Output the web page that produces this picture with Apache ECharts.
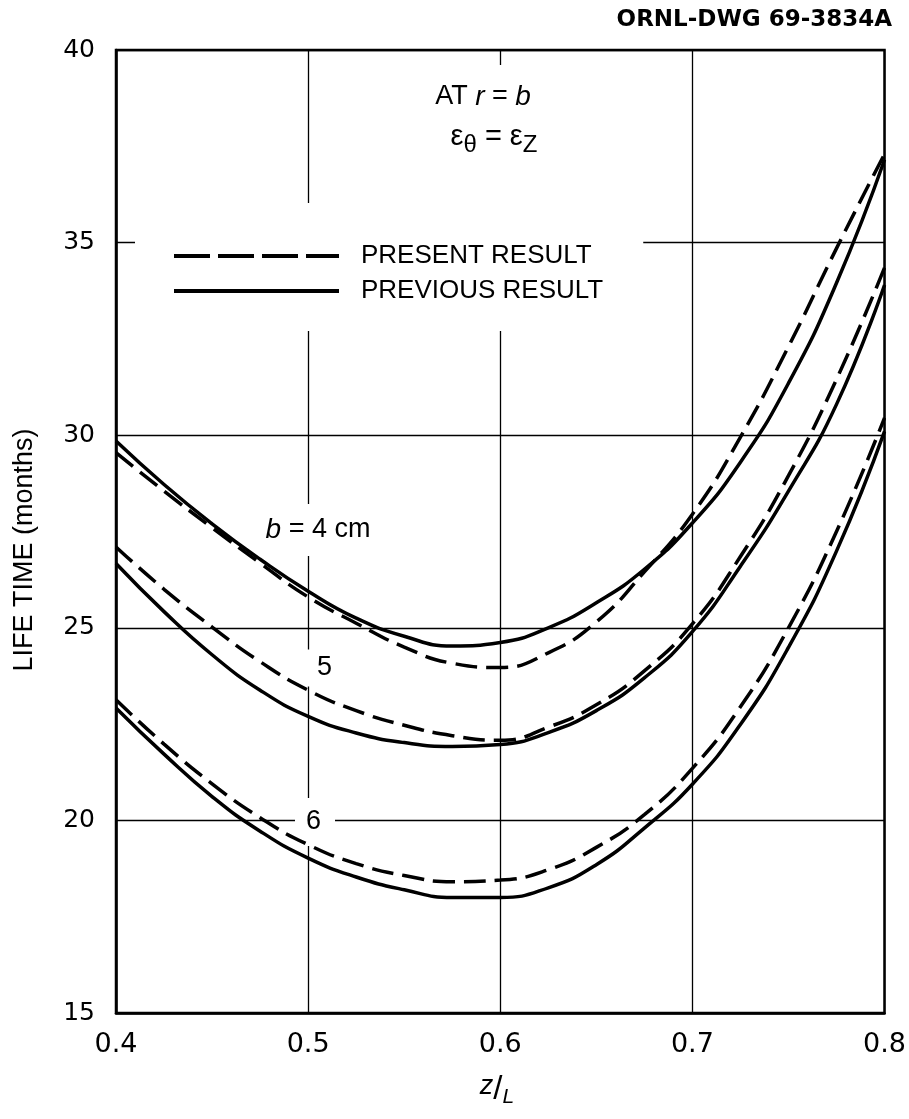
<!DOCTYPE html>
<html>
<head>
<meta charset="utf-8">
<script src="https://cdn.jsdelivr.net/npm/echarts@6/dist/echarts.min.js"></script>
<style>
  html, body { margin: 0; padding: 0; background: #fff; }
  #main { width: 909px; height: 1119px; }
</style>
</head>
<body>
<div id="main"></div>
<script>
var zL = [0.40, 0.425, 0.45, 0.475, 0.50, 0.525, 0.55, 0.575, 0.60, 0.625, 0.65, 0.675, 0.70, 0.725, 0.75, 0.775, 0.80];

// life time (months), present result = dashed
var present4 = [29.55, 28.55, 27.6, 26.68, 25.8, 25.12, 24.5, 24.08, 23.97, 24.35, 25.15, 26.45, 27.95, 29.95, 32.3, 34.85, 37.3];
var present5 = [27.1, 26.0, 25.02, 24.12, 23.38, 22.85, 22.47, 22.2, 22.08, 22.42, 23.0, 23.88, 25.1, 26.85, 28.95, 31.45, 34.35];
var present6 = [23.13, 21.98, 20.95, 20.07, 19.37, 18.88, 18.57, 18.41, 18.45, 18.72, 19.3, 20.15, 21.35, 22.95, 25.0, 27.5, 30.45];

// previous result = solid
var previous4 = [29.85, 28.72, 27.7, 26.78, 25.95, 25.25, 24.78, 24.53, 24.62, 25.0, 25.65, 26.52, 27.72, 29.3, 31.35, 33.95, 37.15];
var previous5 = [26.67, 25.42, 24.3, 23.38, 22.7, 22.27, 22.02, 21.92, 21.97, 22.28, 22.85, 23.7, 24.9, 26.6, 28.55, 30.8, 33.9];
var previous6 = [22.92, 21.72, 20.62, 19.72, 19.02, 18.53, 18.2, 18.0, 18.0, 18.25, 18.85, 19.8, 20.94, 22.49, 24.49, 26.99, 30.1];

var xTicks = [0.4, 0.5, 0.6, 0.7, 0.8];
var yTicks = [15, 20, 25, 30, 35, 40];

var PRESENT = 'PRESENT RESULT';
var PREVIOUS = 'PREVIOUS RESULT';

function pairs(ys) {
    return zL.map(function (x, i) { return [x, ys[i]]; });
}

function curve(name, ys, dashed) {
    return {
        name: name,
        type: 'line',
        data: pairs(ys),
        smooth: 0.5,
        symbol: 'none',
        silent: true,
        itemStyle: { color: '#000' },
        lineStyle: {
            color: '#000',
            width: 3.5,
            type: dashed ? [22, 9] : 'solid'
        }
    };
}

var myChart = echarts.init(document.getElementById('main'));

var option = {
    backgroundColor: '#fff',
    animation: false,
    grid: {
        left: 116,
        right: 20,
        top: 50,
        bottom: 106,
        show: true,
        borderColor: '#000',
        borderWidth: 2.5
    },
    xAxis: {
        type: 'value',
        min: xTicks[0],
        max: xTicks[xTicks.length - 1],
        interval: 0.1,
        axisLine: { show: true, lineStyle: { color: '#000', width: 2.5 } },
        axisTick: { show: false },
        splitLine: { show: true, lineStyle: { color: '#000', width: 1.3 } },
        axisLabel: {
            color: '#000',
            fontFamily: 'DejaVu Sans',
            fontSize: 27,
            margin: 18,
            formatter: function (v) { return v.toFixed(1); }
        }
    },
    yAxis: {
        type: 'value',
        min: yTicks[0],
        max: yTicks[yTicks.length - 1],
        interval: 5,
        axisLine: { show: true, lineStyle: { color: '#000', width: 2.5 } },
        axisTick: { show: false },
        splitLine: { show: true, lineStyle: { color: '#000', width: 1.3 } },
        axisLabel: {
            color: '#000',
            fontFamily: 'DejaVu Sans',
            fontSize: 25,
            margin: 21
        }
    },
    legend: {
        left: 135,
        top: 203,
        orient: 'vertical',
        padding: [40, 40, 27, 37],
        backgroundColor: '#fff',
        itemWidth: 165,
        itemHeight: 14,
        itemGap: 9,
        selectedMode: false,
        itemStyle: { opacity: 0 },
        data: [
            { name: PRESENT, lineStyle: { type: [36, 8], width: 4 } },
            { name: PREVIOUS, lineStyle: { width: 4 } }
        ],
        textStyle: {
            color: '#000',
            fontFamily: 'Liberation Sans',
            fontSize: 26,
            lineHeight: 26,
            padding: [0, 0, 0, 17]
        }
    },
    graphic: [
        // blank patch behind the condition note (the grid line stops there)
        {
            type: 'rect', z: 1, silent: true,
            shape: { x: 415, y: 65, width: 150, height: 140 },
            style: { fill: '#fff' }
        },
        {
            type: 'text', z: 5, x: 483, y: 97,
            style: {
                text: 'AT {i|r} = {i|b}',
                align: 'center', verticalAlign: 'middle',
                font: '27px "Liberation Sans"', fill: '#000',
                rich: { i: { fontStyle: 'italic', fontSize: 28, fontFamily: 'Liberation Sans' } }
            }
        },
        {
            type: 'text', z: 5, x: 494, y: 137,
            style: {
                text: 'ε{s|θ} = ε{s|Z}',
                align: 'center', verticalAlign: 'middle',
                font: '29px "Liberation Sans"', fill: '#000',
                rich: { s: { fontSize: 24, fontFamily: 'Liberation Sans', padding: [16, 0, 0, 0] } }
            }
        },
        // curve labels
        {
            type: 'text', z: 1, x: 318, y: 530,
            style: {
                text: '{i|b} = 4 cm',
                align: 'center', verticalAlign: 'middle',
                font: '27px "Liberation Sans"', fill: '#000',
                backgroundColor: '#fff', padding: [12, 4, 12, 4],
                rich: { i: { fontStyle: 'italic', fontSize: 28, fontFamily: 'Liberation Sans' } }
            }
        },
        {
            type: 'text', z: 1, x: 321, y: 668,
            style: {
                text: '5',
                align: 'center', verticalAlign: 'middle',
                font: '27px "Liberation Sans"', fill: '#000',
                backgroundColor: '#fff', padding: [7, 6, 3, 13]
            }
        },
        {
            type: 'text', z: 1, x: 315, y: 822,
            style: {
                text: '6',
                align: 'center', verticalAlign: 'middle',
                font: '27px "Liberation Sans"', fill: '#000',
                backgroundColor: '#fff', padding: [13, 14, 8, 11]
            }
        },
        // drawing number
        {
            type: 'text', x: 892, y: 20,
            style: {
                text: 'ORNL-DWG 69-3834A',
                align: 'right', verticalAlign: 'middle',
                font: 'bold 23px "DejaVu Sans"', fill: '#000'
            }
        },
        // axis titles
        {
            type: 'text', x: 25, y: 550, rotation: Math.PI / 2,
            style: {
                text: 'LIFE TIME (months)',
                align: 'center', verticalAlign: 'middle',
                font: '27px "Liberation Sans"', fill: '#000'
            }
        },
        {
            type: 'text', x: 497, y: 1090,
            style: {
                text: '{z|z}{sl|/}{l|L}',
                align: 'center', verticalAlign: 'middle',
                fill: '#000',
                rich: {
                    z: { fontStyle: 'italic', fontSize: 27, fontFamily: 'Liberation Sans', padding: [0, 0, 8, 0] },
                    sl: { fontSize: 33, fontFamily: 'Liberation Sans' },
                    l: { fontStyle: 'italic', fontSize: 21, fontFamily: 'Liberation Sans', padding: [14, 0, 0, 0] }
                }
            }
        }
    ],
    series: [
        curve(PRESENT, present4, true),
        curve(PRESENT, present5, true),
        curve(PRESENT, present6, true),
        curve(PREVIOUS, previous4, false),
        curve(PREVIOUS, previous5, false),
        curve(PREVIOUS, previous6, false)
    ]
};

myChart.setOption(option);
</script>
</body>
</html>
